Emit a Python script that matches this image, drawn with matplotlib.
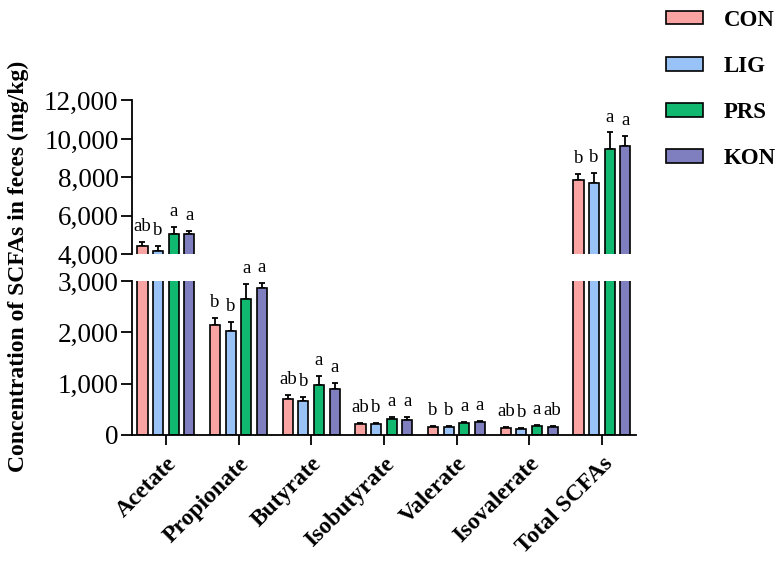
import matplotlib
matplotlib.use("Agg")
import matplotlib.pyplot as plt
from matplotlib.ticker import FuncFormatter
import numpy as np

plt.rcParams['font.family'] = ['Liberation Serif', 'DejaVu Serif']

categories = ['Acetate', 'Propionate', 'Butyrate', 'Isobutyrate',
              'Valerate', 'Isovalerate', 'Total SCFAs']
groups = ['CON', 'LIG', 'PRS', 'KON']
colors = ['#F9A3A3', '#99C2F7', '#10B870', '#7F7FC0']

# mean values (mg/kg), one list per group
con = [4420, 2150, 692, 207, 160, 140, 7870]
lig = [4160, 2035, 658, 222, 163, 120, 7730]
prs = [5040, 2640, 980, 318, 237, 177, 9455]
kon = [5040, 2865, 900, 292, 247, 157, 9610]

# SD (upper error only)
con_err = [240, 130, 85, 30, 18, 12, 305]
lig_err = [275, 175, 90, 20, 15, 17, 480]
prs_err = [395, 300, 178, 35, 22, 15, 880]
kon_err = [185, 95, 110, 50, 32, 13, 560]

# significance letters
con_sig = ['ab', 'b', 'ab', 'ab', 'b', 'ab', 'b']
lig_sig = ['b', 'b', 'b', 'b', 'b', 'b', 'b']
prs_sig = ['a', 'a', 'a', 'a', 'a', 'a', 'a']
kon_sig = ['a', 'a', 'a', 'a', 'a', 'ab', 'a']

means = [con, lig, prs, kon]
errs = [con_err, lig_err, prs_err, kon_err]
sigs = [con_sig, lig_sig, prs_sig, kon_sig]

fig = plt.figure(figsize=(7.82, 5.61), dpi=100)
ax_top = fig.add_axes([0.1694, 0.5467, 0.6439, 0.2742])
ax_bot = fig.add_axes([0.1694, 0.2246, 0.6439, 0.2745])

x = np.arange(len(categories))
pitch = 0.215
width = 0.14
offsets = [-1.5 * pitch, -0.5 * pitch, 0.5 * pitch, 1.5 * pitch]

for ax in (ax_top, ax_bot):
    ax.set_facecolor('none')
    for i in range(4):
        ax.bar(x + offsets[i], means[i], width, color=colors[i],
               edgecolor='black', linewidth=1.2, label=groups[i], zorder=2)
        ax.errorbar(x + offsets[i], means[i],
                    yerr=[np.zeros(len(x)), errs[i]], fmt='none',
                    ecolor='black', elinewidth=1.3, capsize=2.2,
                    capthick=1.3, zorder=1)

# letters: draw in the axis where the bar top is
for i in range(4):
    for j in range(len(categories)):
        top = means[i][j] + errs[i][j]
        ax = ax_top if means[i][j] > 3000 else ax_bot
        ax.annotate(sigs[i][j], (x[j] + offsets[i], top),
                    xytext=(0, 5), textcoords='offset points',
                    ha='center', va='bottom', fontsize=13.5,
                    annotation_clip=False)

fmt = FuncFormatter(lambda v, p: '{:,.0f}'.format(v))

ax_top.set_ylim(4000, 12000)
ax_top.set_yticks([4000, 6000, 8000, 10000, 12000])
ax_bot.set_ylim(0, 3000)
ax_bot.set_yticks([0, 1000, 2000, 3000])

for ax in (ax_top, ax_bot):
    ax.set_xlim(-0.46, 6.47)
    ax.yaxis.set_major_formatter(fmt)
    ax.spines['top'].set_visible(False)
    ax.spines['right'].set_visible(False)
    ax.spines['left'].set_linewidth(1.3)
    ax.tick_params(axis='y', length=8, width=1.3, labelsize=19.5, pad=2)

ax_top.spines['bottom'].set_visible(False)
ax_top.set_xticks([])
ax_bot.spines['bottom'].set_linewidth(1.3)
ax_bot.set_xticks(x)
ax_bot.set_xticklabels(categories, rotation=45, ha='right',
                       rotation_mode='anchor', fontsize=17,
                       fontweight='bold')
ax_bot.tick_params(axis='x', length=7, width=1.3, pad=6)

fig.text(0.023, 0.526, 'Concentration of SCFAs in feces (mg/kg)',
         rotation=90, ha='center', va='center', fontsize=17,
         fontweight='bold')

handles, labels = ax_bot.get_legend_handles_labels()
fig.legend(handles, labels, loc='upper left',
           bbox_to_anchor=(0.846, 0.991), frameon=False,
           prop={'weight': 'bold', 'size': 16.5},
           handlelength=1.6, handleheight=0.55, handletextpad=0.9,
           labelspacing=1.1, borderpad=0.2, borderaxespad=0)

fig.savefig('out.png', dpi=100)
